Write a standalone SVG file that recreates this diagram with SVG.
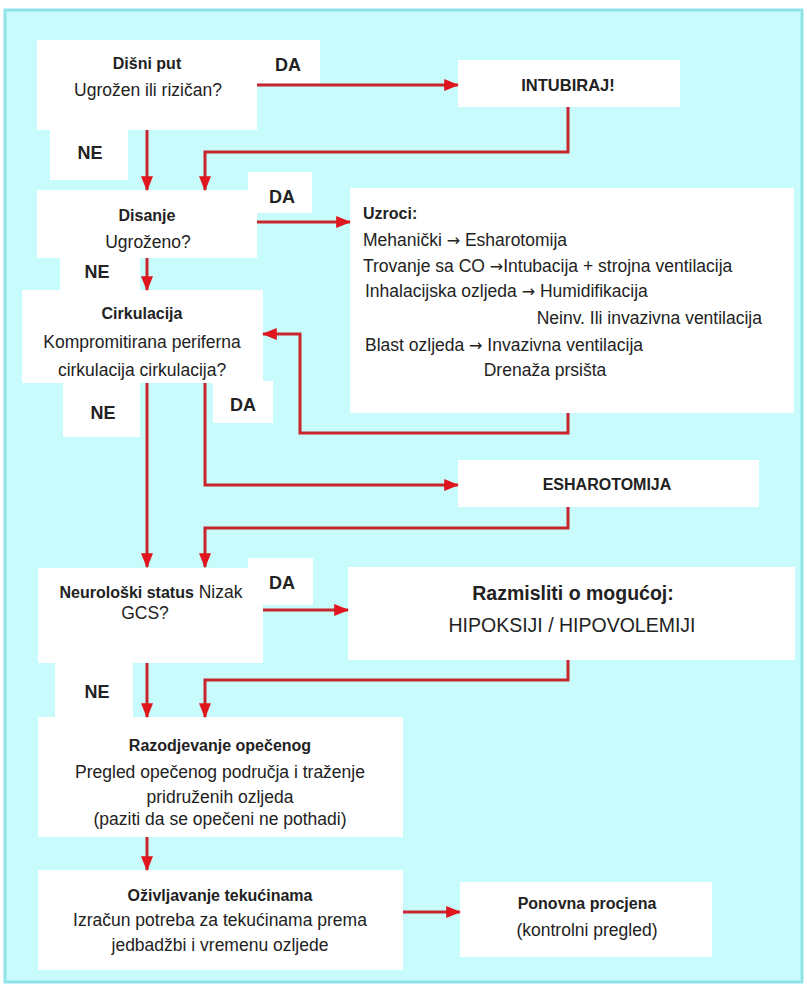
<svg xmlns="http://www.w3.org/2000/svg" width="807" height="985" viewBox="0 0 807 985">
<style>
.bg{fill:#c8fbfb;stroke:#8fe3e6;stroke-width:3}
.box{fill:#ffffff}
text{font-family:"Liberation Sans",Arial,sans-serif;fill:#222;font-size:17.5px}
.c{text-anchor:middle}
.b{font-weight:bold;font-size:16px}
.ar{font-family:"DejaVu Sans",sans-serif;font-size:16px}
.lbl{font-weight:bold;font-size:18px;text-anchor:middle}
.ln{fill:none;stroke:#c8262c;stroke-width:3;marker-end:url(#ah)}
</style>
<defs>
<marker id="ah" markerWidth="5" markerHeight="4" refX="4.6" refY="2" orient="auto" markerUnits="strokeWidth">
<path d="M0,0 L5,2 L0,4 Z" fill="#e0161e"/>
</marker>
</defs>
<rect class="bg" x="5" y="10" width="797" height="972"/>

<g id="label-da1"><rect class="box" x="257" y="40" width="63" height="43"/><text class="lbl" x="288" y="71">DA</text></g>
<g id="label-ne1"><rect class="box" x="50" y="128" width="78" height="52"/><text class="lbl" x="90" y="159">NE</text></g>
<g id="n-disni"><rect class="box" x="37" y="40" width="220" height="90"/>
<text class="c b" x="147" y="69">Dišni put</text>
<text class="c" x="148" y="96">Ugrožen ili rizičan?</text></g>

<g id="n-intubiraj"><rect class="box" x="458" y="60" width="222" height="47"/>
<text class="c b" x="568" y="91" style="font-size:16.5px">INTUBIRAJ!</text></g>

<g id="label-da2"><rect class="box" x="248" y="172" width="64" height="41"/><text class="lbl" x="282" y="203">DA</text></g>
<g id="label-ne2"><rect class="box" x="60" y="256" width="80" height="36"/><text class="lbl" x="97" y="278">NE</text></g>
<g id="n-disanje"><rect class="box" x="37" y="190" width="220" height="68"/>
<text class="c b" x="147" y="221">Disanje</text>
<text class="c" x="148" y="248">Ugroženo?</text></g>

<g id="n-uzroci"><rect class="box" x="350" y="188" width="444" height="225"/>
<text class="b" x="363" y="219">Uzroci:</text>
<text x="363" y="246">Mehanički <tspan class="ar">→</tspan> Esharotomija</text>
<text x="363" y="272">Trovanje sa CO <tspan class="ar">→</tspan>Intubacija + strojna ventilacija</text>
<text x="365" y="297">Inhalacijska ozljeda <tspan class="ar">→</tspan> Humidifikacija</text>
<text x="762" y="324" style="text-anchor:end">Neinv. Ili invazivna ventilacija</text>
<text x="365" y="351">Blast ozljeda <tspan class="ar">→</tspan> Invazivna ventilacija</text>
<text class="c" x="545" y="376">Drenaža prsišta</text></g>

<g id="label-ne3"><rect class="box" x="63" y="381" width="77" height="56"/><text class="lbl" x="103" y="419">NE</text></g>
<g id="label-da3"><rect class="box" x="213" y="381" width="60" height="42"/><text class="lbl" x="243" y="411">DA</text></g>
<g id="n-cirkulacija"><rect class="box" x="22" y="290" width="241" height="93"/>
<text class="c b" x="142" y="319">Cirkulacija</text>
<text class="c" x="142" y="348">Kompromitirana periferna</text>
<text class="c" x="142" y="376">cirkulacija cirkulacija?</text></g>

<g id="n-esharotomija"><rect class="box" x="458" y="460" width="301" height="47"/>
<text class="c b" x="607" y="490">ESHAROTOMIJA</text></g>

<g id="label-da4"><rect class="box" x="248" y="558" width="65" height="47"/><text class="lbl" x="282" y="589">DA</text></g>
<g id="label-ne4"><rect class="box" x="55" y="661" width="78" height="56"/><text class="lbl" x="97" y="698">NE</text></g>
<g id="n-neuro"><rect class="box" x="38" y="568" width="225" height="95"/>
<text class="c" x="151" y="598"><tspan class="b">Neurološki status</tspan>  Nizak</text>
<text class="c" x="145" y="619">GCS?</text></g>

<g id="n-razmisliti"><rect class="box" x="348" y="567" width="447" height="93"/>
<text class="c" x="573" y="600" style="font-weight:bold;font-size:19.5px">Razmisliti o mogućoj:</text>
<text class="c" x="572" y="632" style="font-size:19.5px">HIPOKSIJI / HIPOVOLEMIJI</text></g>

<g id="n-razodjevanje"><rect class="box" x="38" y="717" width="365" height="120"/>
<text class="c b" x="220" y="751">Razodjevanje opečenog</text>
<text class="c" x="220" y="778">Pregled opečenog područja i traženje</text>
<text class="c" x="220" y="803">pridruženih ozljeda</text>
<text class="c" x="220" y="825">(paziti da se opečeni ne pothadi)</text></g>

<g id="n-ozivljavanje"><rect class="box" x="38" y="870" width="365" height="100"/>
<text class="c b" x="220" y="901">Oživljavanje tekućinama</text>
<text class="c" x="220" y="926">Izračun potreba za tekućinama prema</text>
<text class="c" x="220" y="951">jedbadžbi i vremenu ozljede</text></g>

<g id="n-ponovna"><rect class="box" x="460" y="882" width="252" height="75"/>
<text class="c b" x="587" y="909">Ponovna procjena</text>
<text class="c" x="587" y="936">(kontrolni pregled)</text></g>

<g id="connectors">
<path class="ln" d="M257,85 H458"/>
<path class="ln" d="M147,130 V190"/>
<path class="ln" d="M568,107 V152 H205 V190"/>
<path class="ln" d="M257,222 H350"/>
<path class="ln" d="M147,258 V290"/>
<path class="ln" d="M568,413 V433 H300 V334 H263"/>
<path class="ln" d="M147,383 V567"/>
<path class="ln" d="M205,383 V485 H458"/>
<path class="ln" d="M568,507 V528 H205 V567"/>
<path class="ln" d="M263,610 H348"/>
<path class="ln" d="M147,663 V717"/>
<path class="ln" d="M568,660 V680 H205 V717"/>
<path class="ln" d="M147,837 V870"/>
<path class="ln" d="M403,912 H460"/>
</g>
</svg>
